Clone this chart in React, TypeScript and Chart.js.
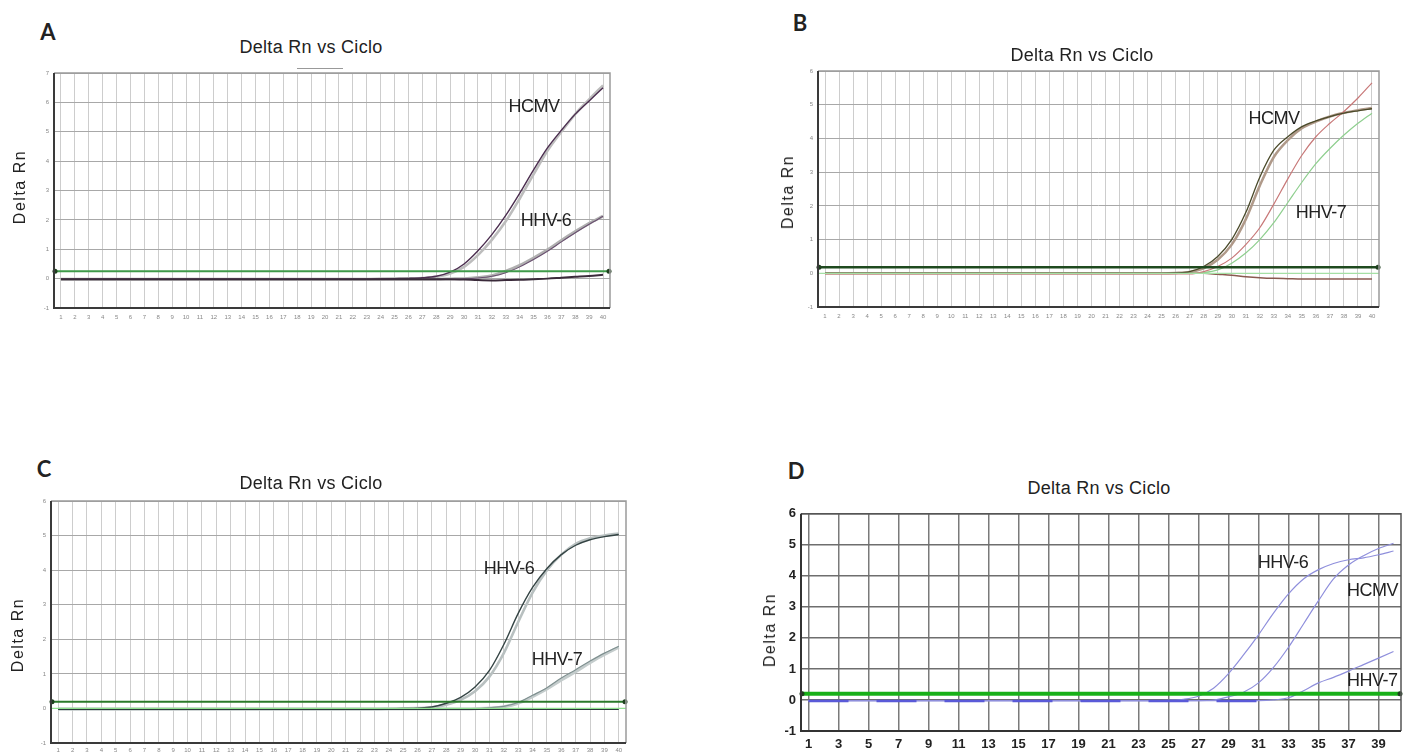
import React, { useEffect, useRef } from "react";
import { Chart, registerables } from "chart.js";

Chart.register(...registerables);

// ---------------- data ----------------
const CYCLES = [1, 2, 3, 4, 5, 6, 7, 8, 9, 10, 11, 12, 13, 14, 15, 16, 17, 18, 19, 20, 21, 22, 23, 24, 25, 26, 27, 28, 29, 30, 31, 32, 33, 34, 35, 36, 37, 38, 39, 40];
const ODD_CYCLES = [1, 3, 5, 7, 9, 11, 13, 15, 17, 19, 21, 23, 25, 27, 29, 31, 33, 35, 37, 39];

// Panel A
const A_HCMV = [-0.02, -0.02, -0.02, -0.02, -0.02, -0.02, -0.02, -0.02, -0.02, -0.02, -0.02, -0.02, -0.02, -0.02, -0.02, -0.02, -0.02, -0.02, -0.02, -0.02, -0.02, -0.02, -0.02, -0.01, 0.0, 0.01, 0.03, 0.08, 0.22, 0.5, 0.95, 1.5, 2.15, 2.9, 3.7, 4.45, 5.05, 5.6, 6.05, 6.5];
const A_HCMV_REP = [-0.02, -0.02, -0.02, -0.02, -0.02, -0.02, -0.02, -0.02, -0.02, -0.02, -0.02, -0.02, -0.02, -0.02, -0.02, -0.02, -0.02, -0.02, -0.02, -0.02, -0.02, -0.02, -0.02, -0.01, 0.0, 0.01, 0.02, 0.06, 0.17, 0.4, 0.8, 1.32, 1.95, 2.72, 3.55, 4.35, 5.0, 5.6, 6.1, 6.58];
const A_HHV6 = [-0.02, -0.02, -0.02, -0.02, -0.02, -0.02, -0.02, -0.02, -0.02, -0.02, -0.02, -0.02, -0.02, -0.02, -0.02, -0.02, -0.02, -0.02, -0.02, -0.02, -0.02, -0.02, -0.02, -0.02, -0.02, -0.02, -0.02, -0.02, -0.01, 0.0, 0.04, 0.1, 0.25, 0.45, 0.7, 0.98, 1.3, 1.6, 1.88, 2.13];
const A_HHV6_REP = [-0.02, -0.02, -0.02, -0.02, -0.02, -0.02, -0.02, -0.02, -0.02, -0.02, -0.02, -0.02, -0.02, -0.02, -0.02, -0.02, -0.02, -0.02, -0.02, -0.02, -0.02, -0.02, -0.02, -0.02, -0.02, -0.02, -0.02, -0.02, -0.02, -0.01, 0.02, 0.08, 0.2, 0.4, 0.65, 0.93, 1.25, 1.56, 1.85, 2.12];
const A_NEG = [-0.02, -0.02, -0.02, -0.02, -0.02, -0.02, -0.02, -0.02, -0.02, -0.02, -0.02, -0.02, -0.02, -0.02, -0.02, -0.02, -0.02, -0.02, -0.02, -0.02, -0.02, -0.02, -0.02, -0.02, -0.02, -0.02, -0.02, -0.02, -0.02, -0.03, -0.05, -0.06, -0.05, -0.04, -0.02, 0.0, 0.03, 0.06, 0.09, 0.13];
const A_THRESHOLD = 0.25;

// Panel B
const B_HCMV = [0.0, 0.0, 0.0, 0.0, 0.0, 0.0, 0.0, 0.0, 0.0, 0.0, 0.0, 0.0, 0.0, 0.0, 0.0, 0.0, 0.0, 0.0, 0.0, 0.0, 0.0, 0.0, 0.0, 0.0, 0.0, 0.01, 0.05, 0.2, 0.5, 1.0, 1.8, 2.85, 3.65, 4.05, 4.35, 4.52, 4.65, 4.75, 4.82, 4.88];
const B_HCMV_REP = [0.0, 0.0, 0.0, 0.0, 0.0, 0.0, 0.0, 0.0, 0.0, 0.0, 0.0, 0.0, 0.0, 0.0, 0.0, 0.0, 0.0, 0.0, 0.0, 0.0, 0.0, 0.0, 0.0, 0.0, 0.0, 0.01, 0.04, 0.15, 0.4, 0.85, 1.6, 2.6, 3.45, 3.95, 4.3, 4.5, 4.65, 4.76, 4.84, 4.9];
const B_HHV7 = [-0.02, -0.02, -0.02, -0.02, -0.02, -0.02, -0.02, -0.02, -0.02, -0.02, -0.02, -0.02, -0.02, -0.02, -0.02, -0.02, -0.02, -0.02, -0.02, -0.02, -0.02, -0.02, -0.02, -0.02, -0.02, -0.02, -0.02, 0.05, 0.2, 0.45, 0.85, 1.35, 2.05, 2.8, 3.5, 4.05, 4.45, 4.8, 5.2, 5.65];
const B_HHV7_REP = [0.0, 0.0, 0.0, 0.0, 0.0, 0.0, 0.0, 0.0, 0.0, 0.0, 0.0, 0.0, 0.0, 0.0, 0.0, 0.0, 0.0, 0.0, 0.0, 0.0, 0.0, 0.0, 0.0, 0.0, 0.0, 0.0, 0.0, 0.02, 0.1, 0.3, 0.6, 1.0, 1.5, 2.1, 2.7, 3.25, 3.7, 4.1, 4.45, 4.75];
const B_NEG = [0.0, 0.0, 0.0, 0.0, 0.0, 0.0, 0.0, 0.0, 0.0, 0.0, 0.0, 0.0, 0.0, 0.0, 0.0, 0.0, 0.0, 0.0, 0.0, 0.0, 0.0, 0.0, 0.0, 0.0, 0.0, 0.0, 0.0, 0.0, -0.03, -0.06, -0.1, -0.13, -0.15, -0.16, -0.17, -0.17, -0.17, -0.17, -0.17, -0.17];
const B_THRESHOLD = 0.18;

// Panel C
const C_HHV6 = [-0.02, -0.02, -0.02, -0.02, -0.02, -0.02, -0.02, -0.02, -0.02, -0.02, -0.02, -0.02, -0.02, -0.02, -0.02, -0.02, -0.02, -0.02, -0.02, -0.02, -0.02, -0.02, -0.02, -0.01, 0.0, 0.01, 0.04, 0.15, 0.32, 0.62, 1.1, 1.85, 2.75, 3.5, 4.05, 4.45, 4.72, 4.88, 4.97, 5.03];
const C_HHV6_REP = [-0.02, -0.02, -0.02, -0.02, -0.02, -0.02, -0.02, -0.02, -0.02, -0.02, -0.02, -0.02, -0.02, -0.02, -0.02, -0.02, -0.02, -0.02, -0.02, -0.02, -0.02, -0.02, -0.02, -0.01, 0.0, 0.01, 0.03, 0.11, 0.25, 0.5, 0.92, 1.6, 2.5, 3.35, 4.0, 4.45, 4.76, 4.92, 5.0, 5.06];
const C_HHV7 = [-0.02, -0.02, -0.02, -0.02, -0.02, -0.02, -0.02, -0.02, -0.02, -0.02, -0.02, -0.02, -0.02, -0.02, -0.02, -0.02, -0.02, -0.02, -0.02, -0.02, -0.02, -0.02, -0.02, -0.02, -0.02, -0.02, -0.02, -0.02, -0.02, -0.01, 0.02, 0.06, 0.17, 0.38, 0.6, 0.88, 1.12, 1.37, 1.6, 1.8];
const C_HHV7_REP = [-0.02, -0.02, -0.02, -0.02, -0.02, -0.02, -0.02, -0.02, -0.02, -0.02, -0.02, -0.02, -0.02, -0.02, -0.02, -0.02, -0.02, -0.02, -0.02, -0.02, -0.02, -0.02, -0.02, -0.02, -0.02, -0.02, -0.02, -0.02, -0.02, -0.01, 0.01, 0.05, 0.15, 0.34, 0.56, 0.82, 1.06, 1.32, 1.56, 1.77];
const C_NEG = [-0.02, -0.02, -0.02, -0.02, -0.02, -0.02, -0.02, -0.02, -0.02, -0.02, -0.02, -0.02, -0.02, -0.02, -0.02, -0.02, -0.02, -0.02, -0.02, -0.02, -0.02, -0.02, -0.02, -0.02, -0.02, -0.02, -0.02, -0.02, -0.02, -0.02, -0.02, -0.02, -0.02, -0.02, -0.02, -0.02, -0.02, -0.02, -0.02, -0.02];
const C_THRESHOLD = 0.19;

// Panel D
const D_HHV6 = [-0.02, -0.02, -0.02, -0.02, -0.02, -0.02, -0.02, -0.02, -0.02, -0.02, -0.02, -0.02, -0.02, -0.02, -0.02, -0.02, -0.02, -0.02, -0.02, -0.02, -0.02, -0.02, -0.02, -0.02, -0.01, 0.02, 0.12, 0.38, 0.85, 1.45, 2.1, 2.8, 3.42, 3.9, 4.2, 4.4, 4.52, 4.58, 4.68, 4.8];
const D_HCMV = [-0.02, -0.02, -0.02, -0.02, -0.02, -0.02, -0.02, -0.02, -0.02, -0.02, -0.02, -0.02, -0.02, -0.02, -0.02, -0.02, -0.02, -0.02, -0.02, -0.02, -0.02, -0.02, -0.02, -0.02, -0.02, -0.02, -0.02, 0.0, 0.1, 0.25, 0.55, 1.05, 1.7, 2.45, 3.2, 3.9, 4.35, 4.65, 4.88, 5.05];
const D_HHV7 = [-0.02, -0.02, -0.02, -0.02, -0.02, -0.02, -0.02, -0.02, -0.02, -0.02, -0.02, -0.02, -0.02, -0.02, -0.02, -0.02, -0.02, -0.02, -0.02, -0.02, -0.02, -0.02, -0.02, -0.02, -0.02, -0.02, -0.02, -0.02, -0.02, -0.02, -0.02, 0.0, 0.07, 0.3, 0.55, 0.73, 0.93, 1.14, 1.35, 1.56];
const D_NTC = [-0.03, -0.03, -0.03, -0.03, -0.03, -0.03, -0.03, -0.03, -0.03, -0.03, -0.03, -0.03, -0.03, -0.03, -0.03, -0.03, -0.03, -0.03, -0.03, -0.03, -0.03, -0.03, -0.03, -0.03, -0.03, -0.03, -0.03, -0.03, -0.03, -0.03, -0.03, -0.03];
const D_THRESHOLD = 0.2;

const TITLE = "Delta Rn vs Ciclo";
const Y_TITLE = "Delta Rn";

// ---------------- chart panel ----------------
type Series = { values: number[]; color: string; width: number; dash?: number[] };
type Rect = { L: number; T: number; R: number; B: number };
type PanelCfg = {
  rect: Rect;
  yMin: number;
  yMax: number;
  xTicks: number[];
  series: Series[]; // listed bottom -> top
  threshold: number;
  thresholdColor: string;
  thresholdWidth: number;
  zeroLine?: string;
  tickFont: { size: number; weight?: string; family: string };
  tickColor: string;
  gridX: string;
  gridY: string;
  gridWidth: number;
  frameDark: string;
  frameLight: string;
  gutterL: number;
  gutterB: number;
  padR: number;
  tickPadX: number;
  tickPadY: number;
};

const PAD_T = 10;

function Panel({ cfg }: { cfg: PanelCfg }) {
  const ref = useRef<HTMLCanvasElement | null>(null);
  const { rect, gutterL, gutterB, padR } = cfg;
  const width = rect.R - rect.L + gutterL + padR;
  const height = rect.B - rect.T + PAD_T + gutterB;

  useEffect(() => {
    if (!ref.current) return;
    const overlay = {
      id: "overlay",
      afterDatasetsDraw(chart: any) {
        const { ctx, chartArea: ca, scales } = chart;
        const y = scales.y;
        ctx.save();
        if (cfg.zeroLine) {
          const zy = y.getPixelForValue(0);
          ctx.strokeStyle = cfg.zeroLine;
          ctx.lineWidth = 1.2;
          ctx.beginPath();
          ctx.moveTo(ca.left, zy);
          ctx.lineTo(ca.right, zy);
          ctx.stroke();
        }
        const ty = y.getPixelForValue(cfg.threshold);
        ctx.strokeStyle = cfg.thresholdColor;
        ctx.lineWidth = cfg.thresholdWidth;
        ctx.beginPath();
        ctx.moveTo(ca.left, ty);
        ctx.lineTo(ca.right, ty);
        ctx.stroke();
        ctx.fillStyle = "#1f3f1f";
        ctx.beginPath();
        ctx.arc(ca.left + 1, ty, 2.5, 0, Math.PI * 2);
        ctx.fill();
        ctx.beginPath();
        ctx.arc(ca.right - 1, ty, 2.5, 0, Math.PI * 2);
        ctx.fill();
        // frame
        ctx.strokeStyle = cfg.frameLight;
        ctx.lineWidth = 1.5;
        ctx.beginPath();
        ctx.moveTo(ca.left, ca.top);
        ctx.lineTo(ca.right, ca.top);
        ctx.lineTo(ca.right, ca.bottom);
        ctx.stroke();
        ctx.strokeStyle = cfg.frameDark;
        ctx.lineWidth = 2;
        ctx.beginPath();
        ctx.moveTo(ca.left, ca.top);
        ctx.lineTo(ca.left, ca.bottom);
        ctx.lineTo(ca.right, ca.bottom);
        ctx.stroke();
        ctx.restore();
      },
    };

    // Chart.js paints dataset 0 last (on top), so reverse the bottom->top list
    const ordered = [...cfg.series].reverse();

    const chart = new Chart(ref.current, {
      type: "line",
      data: {
        datasets: ordered.map((s) => ({
          data: s.values.map((v, i) => ({ x: CYCLES[i], y: v })),
          borderColor: s.color,
          borderWidth: s.width,
          borderDash: s.dash || [],
          pointRadius: 0,
          cubicInterpolationMode: "monotone" as const,
          fill: false,
        })),
      },
      options: {
        animation: false,
        responsive: false,
        events: [],
        layout: { padding: { top: PAD_T, right: padR, left: 0, bottom: 0 } },
        plugins: {
          legend: { display: false },
          tooltip: { enabled: false },
          title: { display: false },
        },
        scales: {
          x: {
            type: "linear",
            min: 0.5,
            max: 40.5,
            afterBuildTicks: (s: any) => {
              s.ticks = cfg.xTicks.map((v) => ({ value: v }));
            },
            afterFit: (s: any) => {
              s.height = gutterB;
            },
            ticks: {
              autoSkip: false,
              maxRotation: 0,
              minRotation: 0,
              padding: cfg.tickPadX,
              font: cfg.tickFont as any,
              color: cfg.tickColor,
            },
            grid: { color: cfg.gridX, lineWidth: cfg.gridWidth, drawTicks: false },
            border: { display: false },
          },
          y: {
            type: "linear",
            min: cfg.yMin,
            max: cfg.yMax,
            afterFit: (s: any) => {
              s.width = gutterL;
            },
            ticks: {
              stepSize: 1,
              padding: cfg.tickPadY,
              font: cfg.tickFont as any,
              color: cfg.tickColor,
            },
            grid: { color: cfg.gridY, lineWidth: cfg.gridWidth, drawTicks: false },
            border: { display: false },
          },
        },
      },
      plugins: [overlay],
    });
    return () => chart.destroy();
  }, []);

  return (
    <canvas
      ref={ref}
      width={width}
      height={height}
      style={{
        position: "absolute",
        left: rect.L - gutterL,
        top: rect.T - PAD_T,
        width,
        height,
      }}
    />
  );
}

const SMALL_FONT = { size: 6, family: "Liberation Sans, Arial, sans-serif" };

const PANEL_A: PanelCfg = {
  rect: { L: 54, T: 73, R: 610, B: 308 },
  yMin: -1,
  yMax: 7,
  xTicks: CYCLES,
  series: [
    { values: A_HCMV_REP, color: "#bdbdbd", width: 2.6 },
    { values: A_HHV6, color: "#b0b0b0", width: 3 },
    { values: A_HCMV, color: "#4b2d4f", width: 1.4 },
    { values: A_HHV6_REP, color: "#6a5070", width: 1.1 },
    { values: A_NEG, color: "#3a2a3a", width: 2 },
  ],
  threshold: A_THRESHOLD,
  thresholdColor: "#3f9a4a",
  thresholdWidth: 2,
  tickFont: SMALL_FONT,
  tickColor: "#888",
  gridX: "#cdcdcd",
  gridY: "#a8a8a8",
  gridWidth: 1,
  frameDark: "#3a3a3a",
  frameLight: "#9a9a9a",
  gutterL: 40,
  gutterB: 20,
  padR: 10,
  tickPadX: 6,
  tickPadY: 5,
};

const PANEL_B: PanelCfg = {
  rect: { L: 818, T: 71, R: 1379, B: 307 },
  yMin: -1,
  yMax: 6,
  xTicks: CYCLES,
  series: [
    { values: B_HCMV_REP, color: "#b09a8a", width: 2.5 },
    { values: B_NEG, color: "#8a5a50", width: 1.5 },
    { values: B_HHV7_REP, color: "#8fcf8f", width: 1.2 },
    { values: B_HHV7, color: "#c87878", width: 1.2 },
    { values: B_HCMV, color: "#4a4a2a", width: 1.3 },
  ],
  threshold: B_THRESHOLD,
  thresholdColor: "#1f4a1f",
  thresholdWidth: 2.5,
  zeroLine: "#a5e0a5",
  tickFont: SMALL_FONT,
  tickColor: "#888",
  gridX: "#cdcdcd",
  gridY: "#a8a8a8",
  gridWidth: 1,
  frameDark: "#3a3a3a",
  frameLight: "#9a9a9a",
  gutterL: 40,
  gutterB: 20,
  padR: 10,
  tickPadX: 6,
  tickPadY: 5,
};

const PANEL_C: PanelCfg = {
  rect: { L: 51, T: 501, R: 626, B: 743 },
  yMin: -1,
  yMax: 6,
  xTicks: CYCLES,
  series: [
    { values: C_HHV6_REP, color: "#b8c0c0", width: 2.6 },
    { values: C_HHV7_REP, color: "#c4cccc", width: 3 },
    { values: C_HHV7, color: "#7f9090", width: 1.2 },
    { values: C_HHV6, color: "#344444", width: 1.4 },
    { values: C_NEG, color: "#2a3a3a", width: 2 },
  ],
  threshold: C_THRESHOLD,
  thresholdColor: "#2a7a2a",
  thresholdWidth: 2,
  zeroLine: "#8fe08f",
  tickFont: SMALL_FONT,
  tickColor: "#888",
  gridX: "#cdcdcd",
  gridY: "#a8a8a8",
  gridWidth: 1,
  frameDark: "#3a3a3a",
  frameLight: "#9a9a9a",
  gutterL: 40,
  gutterB: 20,
  padR: 10,
  tickPadX: 4,
  tickPadY: 5,
};

const PANEL_D: PanelCfg = {
  rect: { L: 801, T: 511, R: 1401, B: 731 },
  yMin: -1,
  yMax: 6,
  xTicks: ODD_CYCLES,
  series: [
    { values: D_HHV6, color: "#8f8fdc", width: 1.2 },
    { values: D_HCMV, color: "#8f8fdc", width: 1.2 },
    { values: D_HHV7, color: "#8f8fdc", width: 1.2 },
    { values: D_NTC, color: "#5a5ad8", width: 2.5, dash: [40, 28] },
  ],
  threshold: D_THRESHOLD,
  thresholdColor: "#18b018",
  thresholdWidth: 4,
  tickFont: { size: 13, weight: "bold", family: "Liberation Sans, Arial, sans-serif" },
  tickColor: "#222",
  gridX: "#7a7a7a",
  gridY: "#6e6e6e",
  gridWidth: 1.5,
  frameDark: "#333",
  frameLight: "#555",
  gutterL: 40,
  gutterB: 22,
  padR: 3,
  tickPadX: 6,
  tickPadY: 5,
};

// ---------------- text helpers ----------------
const SANS = "'Liberation Sans', Arial, sans-serif";

function Txt({ x, y, text, size, weight, family, rotate, spacing, color, anchor }: any) {
  return (
    <div
      style={{
        position: "absolute",
        left: x,
        top: y,
        transform: `translate(${anchor === "left" ? "0" : "-50%"}, -50%)${rotate ? ` rotate(${rotate}deg)` : ""}`,
        fontFamily: family || SANS,
        fontSize: size,
        fontWeight: weight || "normal",
        letterSpacing: spacing || 0,
        color: color || "#222",
        whiteSpace: "nowrap",
        lineHeight: 1,
      }}
    >
      {text}
    </div>
  );
}

const LETTER_FONT = "Lato, 'Open Sans', sans-serif";

export default function App() {
  useEffect(() => {
    document.body.style.margin = "0";
    document.body.style.overflow = "hidden";
  }, []);
  return (
    <div
      style={{
        position: "fixed",
        left: 0,
        top: 0,
        width: 1404,
        height: 753,
        overflow: "hidden",
        background: "#fff",
      }}
    >
      <Panel cfg={PANEL_A} />
      <Panel cfg={PANEL_B} />
      <Panel cfg={PANEL_C} />
      <Panel cfg={PANEL_D} />

      {/* panel letters */}
      <Txt x={48} y={32} text="A" size={22} weight="bold" family={LETTER_FONT} />
      <Txt x={800} y={23} text="B" size={22} weight="bold" family={LETTER_FONT} />
      <Txt x={44} y={469} text="C" size={22} weight="bold" family={LETTER_FONT} />
      <Txt x={796} y={471} text="D" size={22} weight="bold" family={LETTER_FONT} />

      {/* titles */}
      <Txt x={311} y={47} text={TITLE} size={18} spacing={0.3} />
      <div style={{ position: "absolute", left: 297, top: 68, width: 46, height: 1, background: "#999" }} />
      <Txt x={1082} y={55} text={TITLE} size={18} spacing={0.3} />
      <Txt x={311} y={483} text={TITLE} size={18} spacing={0.3} />
      <Txt x={1099} y={488} text={TITLE} size={18} spacing={0.3} />

      {/* y axis titles */}
      <Txt x={20} y={187} text={Y_TITLE} size={16} spacing={1.5} rotate={-90} />
      <Txt x={788} y={192} text={Y_TITLE} size={16} spacing={1.5} rotate={-90} />
      <Txt x={18} y={635} text={Y_TITLE} size={16} spacing={1.5} rotate={-90} />
      <Txt x={770} y={630} text={Y_TITLE} size={16} spacing={1.5} rotate={-90} />

      {/* curve labels */}
      <Txt x={534} y={106} text="HCMV" size={18} spacing={-0.5} />
      <Txt x={546} y={220} text="HHV-6" size={18} spacing={-0.5} />
      <Txt x={1274} y={118} text="HCMV" size={18} spacing={-0.5} />
      <Txt x={1321} y={212} text="HHV-7" size={18} spacing={-0.5} />
      <Txt x={509} y={568} text="HHV-6" size={18} spacing={-0.5} />
      <Txt x={557} y={659} text="HHV-7" size={18} spacing={-0.5} />
      <Txt x={1283} y={562} text="HHV-6" size={18} spacing={-0.5} />
      <Txt x={1347} y={590} text="HCMV" size={18} spacing={-0.5} anchor="left" />
      <Txt x={1347} y={680} text="HHV-7" size={18} spacing={-0.5} anchor="left" />
    </div>
  );
}
